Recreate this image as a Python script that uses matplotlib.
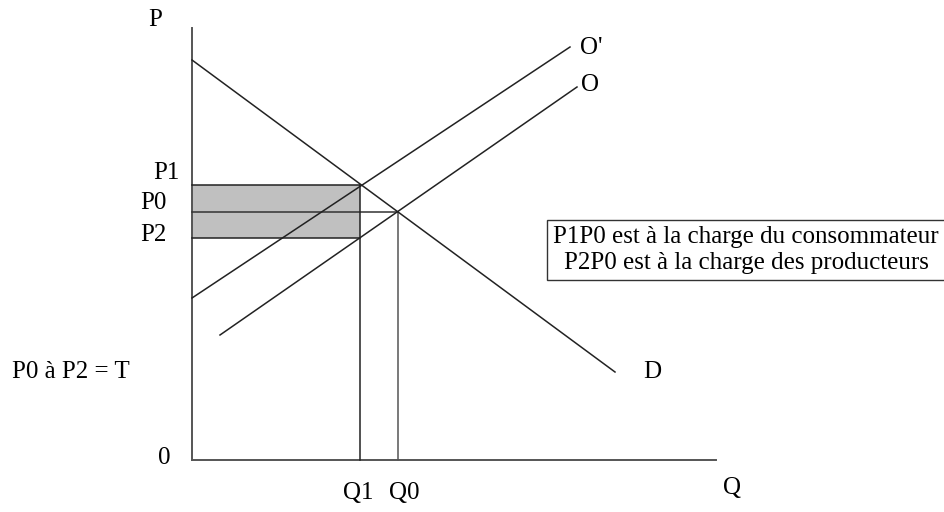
import matplotlib
matplotlib.use("Agg")
import matplotlib.pyplot as plt
from matplotlib.patches import Rectangle

# Economic model (units: arbitrary, origin at the axes corner)
demand_q = [0, 423]
demand_p = [400, 88]
supply_q = [28, 385]            # O
supply_p = [125, 373]
supply_tax_q = [0, 378]         # O'
supply_tax_p = [162, 413]

q1, q0 = 168, 206
p1, p0, p2 = 275, 248, 222

axis_top = 432
axis_right = 524

plt.rcParams['font.family'] = ['Liberation Serif', 'DejaVu Serif']

fig = plt.figure(figsize=(9.44, 5.12), dpi=100)
ax = fig.add_axes([0, 0, 1, 1])
ax.set_xlim(-192, 752)
ax.set_ylim(-52, 460)
ax.axis('off')

# axes
ax.plot([0, 0], [0, axis_top], color='#555555', lw=1.4)
ax.plot([0, axis_right], [0, 0], color='#555555', lw=1.4)

# tax burden area
ax.add_patch(Rectangle((0, p2), q1, p1 - p2, facecolor='#c0c0c0', edgecolor='none', zorder=1))
ax.plot([0, q1], [p1, p1], color='#222222', lw=1.1, zorder=2)
ax.plot([0, q1], [p2, p2], color='#222222', lw=1.1, zorder=2)
ax.plot([0, q0], [p0, p0], color='#333333', lw=1.1, zorder=2)
ax.plot([q1, q1], [0, p1], color='#222222', lw=1.1, zorder=2)
ax.plot([q0, q0], [0, p0], color='#555555', lw=1.1, zorder=2)

# curves
ax.plot(demand_q, demand_p, color='#222222', lw=1.1, zorder=3)
ax.plot(supply_q, supply_p, color='#222222', lw=1.1, zorder=3)
ax.plot(supply_tax_q, supply_tax_p, color='#222222', lw=1.1, zorder=3)

fs = 18
txt = dict(fontsize=fs, color='black', va='center')
ax.text(-37, 440, 'P', ha='center', **txt)
ax.text(-12, 287, 'P1', ha='right', **txt)
ax.text(-39, 257, 'P0', ha='center', **txt)
ax.text(-39, 225, 'P2', ha='center', **txt)
ax.text(-28, 2, '0', ha='center', **txt)
ax.text(166, -33, 'Q1', ha='center', **txt)
ax.text(212, -33, 'Q0', ha='center', **txt)
ax.text(540, -28, 'Q', ha='center', **txt)
ax.text(460, 88, 'D', ha='center', **txt)
ax.text(399, 412, "O'", ha='center', **txt)
ax.text(398, 375, 'O', ha='center', **txt)
ax.text(-180, 88, 'P0 à P2 = T', ha='left', **txt)

ax.text(554, 210, 'P1P0 est à la charge du consommateur\nP2P0 est à la charge des producteurs',
        ha='center', va='center', fontsize=fs, linespacing=1.2,
        bbox=dict(boxstyle='square,pad=0.25', facecolor='white', edgecolor='#333333', lw=1.0))

fig.savefig('out.png', dpi=100)
